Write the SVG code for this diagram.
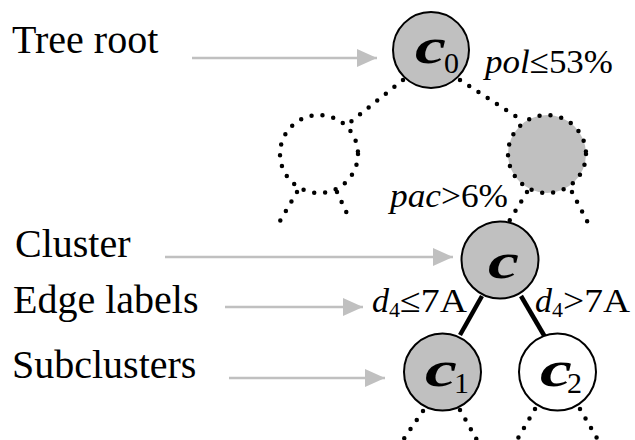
<svg xmlns="http://www.w3.org/2000/svg" width="635" height="440" viewBox="0 0 635 440">
  <defs>
    <marker id="arrowhead" viewBox="0 0 20 18" refX="20" refY="9" markerWidth="20" markerHeight="18" markerUnits="userSpaceOnUse" orient="auto">
      <path d="M0,0 L20,9 L0,18 Z" fill="#c0c0c0"/>
    </marker>
    <style>
      text { font-family: "Liberation Serif", "DejaVu Serif", serif; fill: #000; }
      .label { font-size: 40px; }
      .it { font-style: italic; }
      .nodename { font-weight: bold; font-style: italic; font-size: 50px; }
      .sub { font-size: 30px; }
      .pointer { stroke: #c0c0c0; stroke-width: 2.5; fill: none; marker-end: url(#arrowhead); }
      .solid-node { stroke: #000; stroke-width: 2; }
      .dotted { stroke: #000; stroke-width: 4.5; stroke-linecap: round; stroke-dasharray: 0 11; fill: none; }
      .edge { stroke: #000; stroke-width: 4.5; fill: none; }
      .filled { fill: #c0c0c0; }
      .empty { fill: #fff; }
    </style>
  </defs>

  <!-- annotation labels and pointer arrows -->
  <g id="annotations">
    <text class="label" x="12" y="53">Tree root</text>
    <text class="label" x="15" y="257">Cluster</text>
    <text class="label" x="13" y="313">Edge labels</text>
    <text class="label" x="12" y="378">Subclusters</text>
    <line class="pointer" x1="192" y1="58" x2="377" y2="58"/>
    <line class="pointer" x1="165" y1="257" x2="453" y2="257"/>
    <line class="pointer" x1="225" y1="307" x2="363" y2="307"/>
    <line class="pointer" x1="229" y1="378" x2="385" y2="378"/>
  </g>

  <!-- tree connectors -->
  <g id="connectors">
    <line class="dotted" x1="403" y1="80" x2="343" y2="128"/>
    <line class="dotted" x1="460" y1="80" x2="517" y2="117"/>
    <line class="dotted" x1="297" y1="192" x2="280" y2="221"/>
    <line class="dotted" x1="337" y1="192" x2="350" y2="220"/>
    <line class="dotted" x1="527" y1="192" x2="508" y2="223"/>
    <line class="dotted" x1="572" y1="192" x2="588" y2="223"/>
    <line class="edge" x1="482" y1="296" x2="460" y2="335"/>
    <line class="edge" x1="521" y1="296" x2="545" y2="337"/>
    <line class="dotted" x1="423" y1="411" x2="403" y2="440"/>
    <line class="dotted" x1="460" y1="410" x2="477" y2="440"/>
    <line class="dotted" x1="535" y1="409" x2="517" y2="440"/>
    <line class="dotted" x1="580" y1="409" x2="598" y2="440"/>
  </g>

  <!-- root node c0 -->
  <g id="node-c0">
    <circle class="filled solid-node" cx="431" cy="50" r="38"/>
    <text class="nodename" x="415" y="63" textLength="31" lengthAdjust="spacingAndGlyphs">c</text>
    <text class="sub" x="444" y="73">0</text>
  </g>

  <!-- unlabeled inner nodes -->
  <g id="node-left">
    <circle class="empty dotted" cx="319" cy="154" r="39"/>
  </g>
  <g id="node-right">
    <circle class="filled dotted" cx="547" cy="154" r="39"/>
  </g>

  <!-- cluster c -->
  <g id="node-c">
    <circle class="filled solid-node" cx="500" cy="260" r="38.5"/>
    <text class="nodename" x="488" y="278" textLength="31" lengthAdjust="spacingAndGlyphs">c</text>
  </g>

  <!-- subclusters -->
  <g id="node-c1">
    <circle class="filled solid-node" cx="442.5" cy="372" r="38.5"/>
    <text class="nodename" x="425" y="386" textLength="32" lengthAdjust="spacingAndGlyphs">c</text>
    <text class="sub" x="454" y="393">1</text>
  </g>
  <g id="node-c2">
    <circle class="empty solid-node" cx="557.5" cy="372" r="38.5"/>
    <text class="nodename" x="540" y="386" textLength="32" lengthAdjust="spacingAndGlyphs">c</text>
    <text class="sub" x="567" y="393">2</text>
  </g>

  <!-- split conditions -->
  <g id="edge-labels">
    <text x="485" y="73" font-size="34" textLength="128" lengthAdjust="spacingAndGlyphs"><tspan class="it">pol</tspan>≤53%</text>
    <text x="390" y="207" font-size="34" textLength="118" lengthAdjust="spacingAndGlyphs"><tspan class="it">pac</tspan>&gt;6%</text>
    <text x="372" y="312" font-size="34"><tspan class="it">d</tspan><tspan font-size="22" dy="5">4</tspan><tspan dy="-5" textLength="67" lengthAdjust="spacingAndGlyphs">≤7A</tspan></text>
    <text x="535" y="312" font-size="34"><tspan class="it">d</tspan><tspan font-size="22" dy="5">4</tspan><tspan dy="-5" textLength="67" lengthAdjust="spacingAndGlyphs">&gt;7A</tspan></text>
  </g>
</svg>
